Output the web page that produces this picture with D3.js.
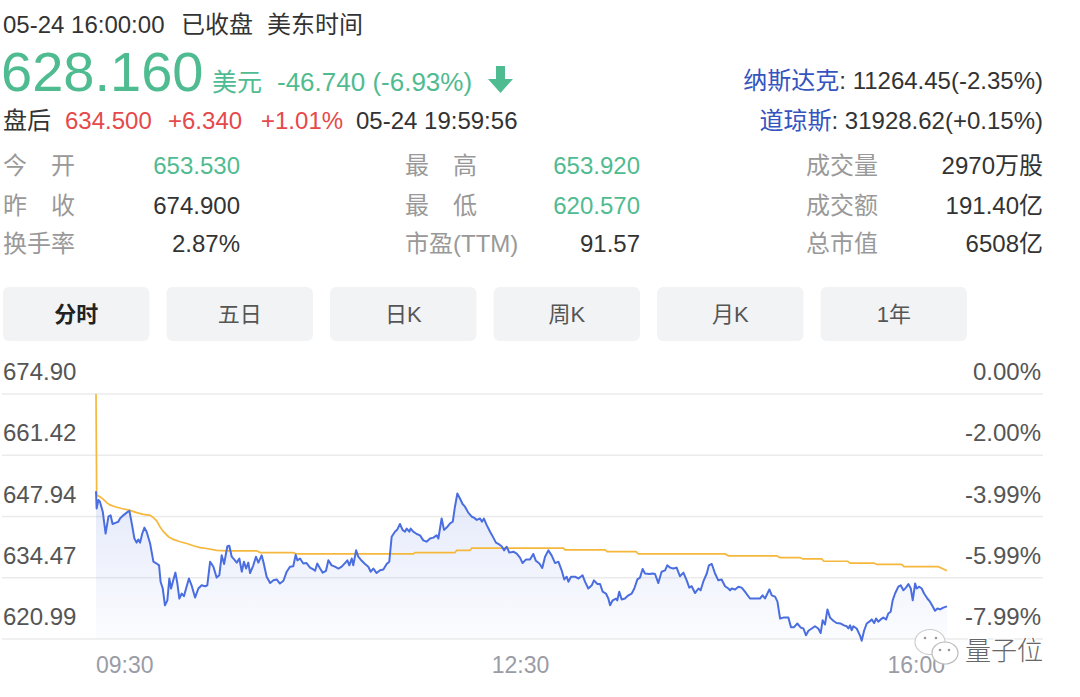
<!DOCTYPE html>
<html>
<head>
<meta charset="utf-8">
<script src="https://cdn.jsdelivr.net/npm/d3@7"></script>
<style>
  html, body { margin: 0; padding: 0; background: #fff; }
  svg { display: block; font-family: "Liberation Sans", Arial, "Noto Sans CJK SC", sans-serif; }
</style>
</head>
<body>
<svg id="chart" width="1080" height="697"></svg>
<script>
// ---- data ----
const prevClose = 674.90;

// [minutes after 09:30, price]
const priceSeries = [[0,653.5],[0.3,649.7],[1.1,651.6],[1.8,651.2],[3.1,649.0],[4.4,644.2],[5.7,647.9],[6.7,648.2],[7.6,646.3],[9.2,646.6],[10.2,646.8],[11,647.5],[12.5,648.2],[14.1,648.8],[15.3,649.2],[16.4,646.4],[17.6,643.1],[18.6,642.2],[19.4,642.9],[20.2,642.2],[21.2,644.2],[22.2,645.5],[23.2,644.6],[24.8,642.0],[26.3,638.0],[27.8,637.6],[28.9,637.2],[29.6,633.6],[30.6,632.1],[31.6,628.4],[32.7,629.5],[33.6,634.3],[34.4,632.1],[35.4,633.9],[36.4,635.6],[37.3,633.2],[38.2,629.9],[39.3,631.0],[40.3,630.4],[41.5,632.5],[42.6,634.3],[43.8,632.8],[45.4,630.1],[46.9,632.1],[48.4,632.8],[50,632.6],[51,632.8],[52.3,638.0],[53.8,636.9],[55.3,634.5],[56.5,635.0],[57.6,639.4],[58.7,637.5],[60.2,641.4],[61.1,641.5],[62.2,639.1],[63.3,638.5],[64.5,637.8],[65.7,638.7],[66.8,635.8],[67.8,638.0],[68.8,636.5],[69.8,637.8],[70.6,635.5],[72.1,637.2],[73.3,639.1],[74.4,637.8],[75.9,639.4],[76.7,638.0],[78.2,634.7],[79.8,633.3],[81.3,633.9],[82.8,634.1],[84.3,633.2],[85.9,633.8],[87.4,635.8],[88.9,636.9],[90.4,637.0],[91.5,639.5],[92.3,638.3],[93.5,638.7],[95,637.6],[96.5,637.7],[98.1,636.7],[99.6,636.3],[100.4,636.0],[101.4,637.6],[102.7,636.5],[103.9,635.6],[105.4,636.0],[106.5,638.3],[108,637.2],[109.5,636.9],[111.1,636.5],[112.6,636.9],[114.1,637.7],[115.2,638.3],[116.1,637.2],[117.2,638.7],[117.9,637.2],[119.2,640.5],[120.2,639.1],[121.8,638.2],[123.3,637.5],[124.8,636.9],[125.9,635.8],[127.1,636.5],[128.6,635.5],[130.2,636.1],[131.7,636.3],[133.2,637.5],[134.4,638.0],[135.5,643.5],[137,644.6],[138.1,645.1],[139.3,646.3],[140.5,645.0],[141.6,644.6],[142.4,645.3],[143.6,644.6],[144.2,645.3],[145.4,644.6],[147,644.1],[148.5,643.8],[150,642.7],[151.5,642.4],[153.1,643.1],[154.6,643.3],[156.1,643.8],[156.9,643.1],[158.4,647.5],[159.5,645.0],[160.7,645.5],[162.2,646.4],[163.5,646.8],[164.5,650.1],[165.6,653.0],[166.8,651.9],[168,650.7],[169.1,650.1],[170.6,648.8],[172.2,647.9],[173.2,647.7],[174.5,647.2],[176,647.5],[176.9,646.8],[177.8,647.5],[179,646.1],[180.6,644.6],[182.1,643.3],[183.3,642.2],[184.8,641.8],[185.9,641.4],[187,640.5],[188.2,641.3],[189.4,640.0],[191.3,640.2],[192.8,639.8],[194.3,638.9],[195.5,637.7],[197.1,638.5],[198.9,638.5],[200.4,639.7],[201.6,638.2],[203.2,637.6],[204.5,636.6],[205.8,639.1],[207.3,640.5],[208.8,639.4],[210.4,637.7],[211.9,638.0],[213.4,636.1],[214.6,634.1],[215.7,634.7],[216.5,633.6],[217.7,634.7],[219.5,634.7],[221.1,634.3],[223,635.0],[224.1,633.6],[225.6,632.1],[227.2,632.8],[228.2,633.9],[229.8,633.1],[231,633.1],[232.2,631.4],[233.7,631.0],[234.8,629.9],[235.6,628.4],[236.8,629.5],[238.3,629.9],[238.9,629.5],[239.8,631.4],[240.9,629.7],[242.4,629.9],[244,630.6],[245.5,631.0],[246.7,632.1],[248.1,634.1],[249.3,634.5],[250.5,636.4],[251.6,635.4],[253.6,635.3],[255.1,635.4],[256.2,635.3],[257.7,633.3],[259.2,635.8],[260.8,636.1],[261.8,637.2],[263.1,636.7],[264.6,636.5],[266.1,636.7],[267.6,634.8],[269.2,635.6],[270.7,633.9],[271.9,632.3],[273,632.6],[274.5,631.1],[276.1,632.1],[277.1,631.7],[278.3,633.6],[279.9,635.4],[280.9,637.2],[282.2,637.5],[283.7,635.4],[285.2,633.9],[286.7,634.1],[288.3,632.6],[289.8,632.1],[290.6,631.7],[291.3,632.1],[292.9,631.9],[294.4,632.5],[295.9,632.3],[297.4,631.4],[299.7,629.9],[302,629.9],[304.3,629.9],[305.5,630.6],[306.6,629.9],[307.7,631.0],[308.6,631.9],[309.7,630.6],[311.2,630.3],[312.3,629.2],[313.5,625.5],[315,625.7],[317.3,625.7],[318.5,623.6],[319.9,623.6],[321.4,624.4],[323,623.5],[324.2,623.3],[325.4,621.8],[326.5,622.8],[328,623.3],[329.5,623.8],[331,623.3],[332.1,622.3],[333,625.1],[334.1,624.2],[335.2,627.5],[336.4,625.7],[337.9,625.0],[339.4,624.5],[341.3,624.4],[342.8,624.0],[344,623.8],[344.8,623.3],[345.6,624.0],[346.3,622.9],[347.1,623.8],[348.6,623.3],[350.1,621.8],[350.9,620.6],[352,622.8],[353.2,624.4],[354.4,624.8],[355.5,625.3],[356.6,624.5],[357.5,625.5],[358.5,624.8],[359.6,625.3],[360.8,625.7],[362.1,625.3],[363.1,626.6],[364.2,627.0],[365.1,629.5],[366.2,631.0],[367.7,632.5],[368.8,632.8],[370,631.7],[371.2,632.3],[372.3,633.1],[373.4,632.1],[374.3,629.5],[375.4,633.2],[376.1,632.1],[377.3,632.5],[378.4,632.1],[379.5,631.0],[381,629.9],[382.2,629.2],[383.4,628.2],[384.5,627.2],[385.6,627.7],[386.8,627.5],[388.3,627.9],[390,628.16]];

// average price line
const avgSeries = [[0,674.9],[0.3,653.0],[0.5,652.6],[1.8,652.3],[3.4,651.7],[4.9,651.0],[6.4,650.5],[8.7,650.1],[11.8,649.7],[15.6,649.3],[18.6,648.8],[21.7,648.4],[24.8,648.2],[26.3,647.7],[27.8,647.0],[29.3,645.7],[30.9,644.6],[33.2,643.5],[35.4,642.9],[38.5,642.4],[41.6,642.0],[44.6,641.5],[47.7,641.1],[50.7,640.9],[55.3,640.5],[59.9,640.4],[73.6,640.4],[75.2,640.0],[90.4,640.0],[92,639.7],[145.4,639.7],[146.2,640.0],[164.5,640.0],[165.3,640.5],[171.4,640.5],[172.2,641.0],[214.2,641.0],[214.9,640.6],[233.3,640.6],[234.3,640.2],[247.5,640.2],[248.5,639.7],[288.3,639.7],[289.8,639.3],[312,639.3],[313.5,638.9],[322.6,638.9],[323.9,638.6],[332.6,638.6],[333.6,638.1],[344.5,638.1],[345.6,637.7],[356.6,637.7],[357.8,637.4],[369.2,637.4],[370.3,636.9],[386,636.9],[388.3,636.4],[390,636.0]];

const priceTicks = [674.90, 661.42, 647.94, 634.47, 620.99];
const pctTicks = ["0.00%", "-2.00%", "-3.99%", "-5.99%", "-7.99%"];
const timeTicks = ["09:30", "12:30", "16:00"];

const tabLabels = ["分时", "五日", "日K", "周K", "月K", "1年"];

const statLabels = [["今　开", "昨　收", "换手率"], ["最　高", "最　低", "市盈(TTM)"], ["成交量", "成交额", "总市值"]];
const statValues = [["653.530", "674.900", "2.87%"], ["653.920", "620.570", "91.57"], ["2970万股", "191.40亿", "6508亿"]];
const statUp = [[true, false, false], [true, true, false], [false, false, false]];

const indexNames = ["纳斯达克", "道琼斯"];
const indexValues = ["11264.45(-2.35%)", "31928.62(+0.15%)"];

// ---- drawing ----
const GREEN = "#4fbb91", RED = "#e5494b", DARK = "#333", GREY = "#999";
const svg = d3.select("#chart");

// header
svg.append("text").attr("x", 3).attr("y", 33).attr("font-size", 24).attr("fill", DARK)
  .text("05-24 16:00:00");
svg.append("text").attr("x", 181).attr("y", 33).attr("font-size", 24).attr("fill", DARK)
  .text("已收盘");
svg.append("text").attr("x", 267).attr("y", 33).attr("font-size", 24).attr("fill", DARK)
  .text("美东时间");

svg.append("text").attr("x", 1).attr("y", 91).attr("font-size", 56).attr("fill", GREEN)
  .text("628.160");
svg.append("text").attr("x", 212).attr("y", 91).attr("font-size", 25).attr("fill", GREEN)
  .text("美元");
svg.append("text").attr("x", 277).attr("y", 91).attr("font-size", 26).attr("fill", GREEN)
  .text("-46.740 (-6.93%)");
svg.append("path")
  .attr("d", "M496,66 L505,66 L505,79 L513,79 L500.5,93 L488,79 L496,79 Z")
  .attr("fill", GREEN);

svg.append("text").attr("x", 3).attr("y", 129).attr("font-size", 24).attr("fill", DARK).text("盘后");
svg.append("text").attr("x", 65).attr("y", 129).attr("font-size", 24).attr("fill", RED).text("634.500");
svg.append("text").attr("x", 168).attr("y", 129).attr("font-size", 24).attr("fill", RED).text("+6.340");
svg.append("text").attr("x", 261).attr("y", 129).attr("font-size", 24).attr("fill", RED).text("+1.01%");
svg.append("text").attr("x", 356).attr("y", 129).attr("font-size", 24).attr("fill", DARK).text("05-24 19:59:56");

const idx = svg.append("g").selectAll("text").data(indexNames).join("text")
  .attr("x", 1043).attr("y", (d, i) => 89 + i * 40)
  .attr("text-anchor", "end").attr("font-size", 24);
idx.append("tspan").attr("fill", "#3554c0").text(d => d);
idx.append("tspan").attr("fill", DARK).text((d, i) => ": " + indexValues[i]);

// stats grid
const labelX = [3, 405, 806], valueX = [240, 640, 1043], rowY = [174, 214, 252];
statLabels.forEach((col, c) => {
  col.forEach((lab, r) => {
    svg.append("text").attr("x", labelX[c]).attr("y", rowY[r]).attr("font-size", 24)
      .attr("fill", GREY).text(lab);
    svg.append("text").attr("x", valueX[c]).attr("y", rowY[r]).attr("font-size", 24)
      .attr("text-anchor", "end").attr("fill", statUp[c][r] ? GREEN : DARK).text(statValues[c][r]);
  });
});

// tabs
const tabX = d3.scaleBand().domain(tabLabels).range([3, 967]).paddingInner(0.105);
const tabs = svg.append("g").selectAll("g").data(tabLabels).join("g")
  .attr("transform", d => `translate(${tabX(d)},287)`);
tabs.append("rect").attr("width", tabX.bandwidth()).attr("height", 54).attr("rx", 6)
  .attr("fill", "#f2f3f5");
tabs.append("text").attr("x", tabX.bandwidth() / 2).attr("y", 35).attr("text-anchor", "middle")
  .attr("font-size", 22)
  .attr("font-weight", (d, i) => i === 0 ? "bold" : "normal")
  .attr("fill", (d, i) => i === 0 ? "#222" : "#555")
  .text(d => d);

// chart scales
const x = d3.scaleLinear().domain([0, 390]).range([96, 947]);
const y = d3.scaleLinear().domain([620.99, 674.90]).range([639, 394]);

// gridlines
svg.append("g").selectAll("line").data(priceTicks).join("line")
  .attr("x1", 2).attr("x2", 1043)
  .attr("y1", d => y(d)).attr("y2", d => y(d))
  .attr("stroke", "#ebebeb").attr("stroke-width", 1.5);

// area gradient
const defs = svg.append("defs");
const grad = defs.append("linearGradient").attr("id", "areaGrad")
  .attr("gradientUnits", "userSpaceOnUse")
  .attr("x1", 0).attr("x2", 0).attr("y1", y(653.9)).attr("y2", y(620.99));
grad.append("stop").attr("offset", 0).attr("stop-color", "#4a6ee0").attr("stop-opacity", 0.15);
grad.append("stop").attr("offset", 1).attr("stop-color", "#4a6ee0").attr("stop-opacity", 0.02);

svg.append("path").datum(priceSeries)
  .attr("d", d3.area().x(d => x(d[0])).y0(y(620.99)).y1(d => y(d[1])))
  .attr("fill", "url(#areaGrad)");

svg.append("path").datum(avgSeries)
  .attr("d", d3.line().x(d => x(d[0])).y(d => y(d[1])))
  .attr("fill", "none").attr("stroke", "#f6b83c").attr("stroke-width", 1.7);

svg.append("path").datum(priceSeries)
  .attr("d", d3.line().x(d => x(d[0])).y(d => y(d[1])))
  .attr("fill", "none").attr("stroke", "#4a6ee0").attr("stroke-width", 2)
  .attr("stroke-linejoin", "round");

// axis labels
svg.append("g").selectAll("text").data(priceTicks).join("text")
  .attr("x", 3).attr("y", d => y(d) - 14).attr("font-size", 24).attr("fill", "#555")
  .text(d => d.toFixed(2));
svg.append("g").selectAll("text").data(pctTicks).join("text")
  .attr("x", 1041).attr("y", (d, i) => y(priceTicks[i]) - 14).attr("text-anchor", "end")
  .attr("font-size", 24).attr("fill", "#555").text(d => d);

const tx = d3.scalePoint().domain(timeTicks).range([96, 945]);
svg.append("g").selectAll("text").data(timeTicks).join("text")
  .attr("x", d => tx(d)).attr("y", 673)
  .attr("text-anchor", (d, i) => i === 0 ? "start" : i === timeTicks.length - 1 ? "end" : "middle")
  .attr("font-size", 23).attr("fill", "#9a9ca6").text(d => d);

// watermark
const wm = svg.append("g");
wm.append("ellipse").attr("cx", 930).attr("cy", 642).attr("rx", 15).attr("ry", 12.5)
  .attr("fill", "#fff").attr("stroke", "#ccc").attr("stroke-width", 1.2);
wm.append("ellipse").attr("cx", 945).attr("cy", 653).attr("rx", 13).attr("ry", 11)
  .attr("fill", "#fff").attr("stroke", "#bbb").attr("stroke-width", 1.2);
[[925, 638], [936, 638], [940, 650], [949, 650]].forEach(p =>
  wm.append("circle").attr("cx", p[0]).attr("cy", p[1]).attr("r", 1.3).attr("fill", "#999"));
wm.append("text").attr("x", 965).attr("y", 660).attr("font-size", 26).attr("fill", "#666")
  .attr("stroke", "#fff").attr("stroke-width", 3).attr("paint-order", "stroke")
  .attr("font-family", "Noto Sans CJK SC").attr("font-weight", 300).text("量子位");
</script>
</body>
</html>
